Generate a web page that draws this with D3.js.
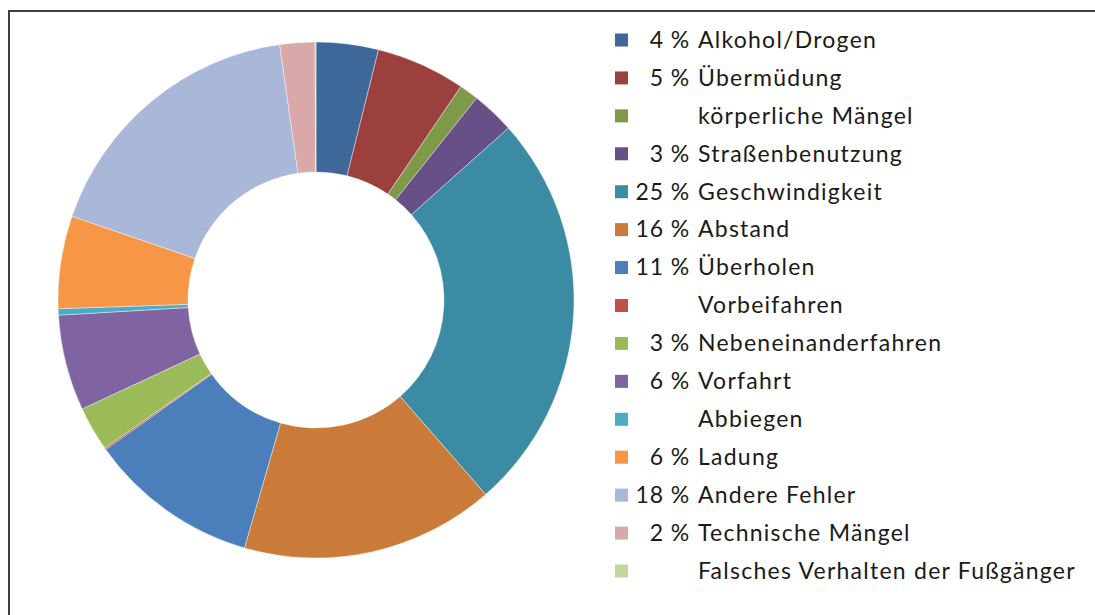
<!DOCTYPE html>
<html lang="de">
<head>
    <meta charset="UTF-8">
    <title>Unfallursachen</title>
    <script src="https://cdn.jsdelivr.net/npm/d3@7"></script>
    <style>
        body { margin: 0; background: #fff; }
        text { font-family: Lato, "Noto Sans", sans-serif; fill: #1a1a1a; }
    </style>
</head>
<body>
    <div id="chart"></div>
    <script>
        var width = 1095;
        var height = 615;

        // Ursachen (legend order = slice order, clockwise from 12 o'clock)
        var categories = [
            "Alkohol/Drogen", "Übermüdung", "körperliche Mängel", "Straßenbenutzung",
            "Geschwindigkeit", "Abstand", "Überholen", "Vorbeifahren",
            "Nebeneinanderfahren", "Vorfahrt", "Abbiegen", "Ladung",
            "Andere Fehler", "Technische Mängel", "Falsches Verhalten der Fußgänger"
        ];
        // shares in percent
        var values = [3.9, 5.6, 1.2, 2.7, 25.2, 15.9, 10.7, 0.1, 2.8, 6.0, 0.4, 5.8, 17.5, 2.2, 0.05];
        // percentage labels as printed in the legend (blank where not shown)
        var pctLabels = ["4 %", "5 %", "", "3 %", "25 %", "16 %", "11 %", "", "3 %", "6 %", "", "6 %", "18 %", "2 %", ""];
        var colors = [
            "#3d6899", "#9c403e", "#7e9a48", "#674f87", "#3a8ba3", "#cb7b39", "#4b7fbc", "#c0504d",
            "#9bbb59", "#8064a2", "#4bacc6", "#f79646", "#a9b8d8", "#d9a9a9", "#c3d69b"
        ];

        var svg = d3.select("#chart").append("svg")
            .attr("width", width)
            .attr("height", height);

        // frame (top and left edge visible)
        svg.append("path")
            .attr("d", "M9,615 V11 H1095")
            .attr("fill", "none")
            .attr("stroke", "#3f3f3f")
            .attr("stroke-width", 2);

        var cx = 316, cy = 300;
        var outerR = 258, innerR = 128;

        var pie = d3.pie().sort(null).value(function(d) { return d; });
        var arc = d3.arc().innerRadius(innerR).outerRadius(outerR);

        svg.append("g")
            .attr("transform", "translate(" + cx + "," + cy + ")")
            .selectAll("path")
            .data(pie(values))
            .enter().append("path")
            .attr("d", arc)
            .attr("fill", function(d, i) { return colors[i]; })
            .attr("stroke", "#fff")
            .attr("stroke-width", 0.4);

        // legend
        var y = d3.scalePoint().domain(d3.range(categories.length)).range([40, 571]);

        var row = svg.append("g").selectAll("g")
            .data(categories)
            .enter().append("g")
            .attr("transform", function(d, i) { return "translate(0," + y(i) + ")"; });

        row.append("rect")
            .attr("x", 615).attr("y", -6.5)
            .attr("width", 13).attr("height", 13)
            .attr("fill", function(d, i) { return colors[i]; });

        row.append("text")
            .attr("x", 690)
            .attr("dy", "0.34em")
            .attr("text-anchor", "end")
            .style("font-size", "23px")
            .style("letter-spacing", "0.9px")
            .text(function(d, i) { return pctLabels[i]; });

        row.append("text")
            .attr("x", 698)
            .attr("dy", "0.34em")
            .style("font-size", "23px")
            .style("letter-spacing", "1.25px")
            .text(function(d) { return d; });
    </script>
</body>
</html>
